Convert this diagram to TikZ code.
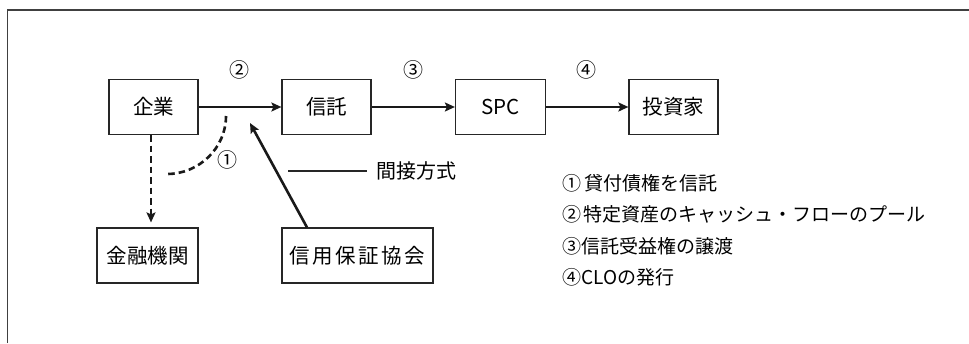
\documentclass[tikz,border=0pt]{standalone}
\usepackage{fontspec}
\setmainfont{Noto Sans CJK JP}
\usetikzlibrary{arrows.meta}
\begin{document}
\begin{tikzpicture}[x=1pt,y=-1pt,
  box/.style={draw=black!85,line width=1.2pt,minimum height=55pt,inner sep=0pt,font=\fontsize{20.5}{24}\selectfont},
  flow/.style={draw=black!90,line width=2.6pt,-{Stealth[length=10pt,width=9pt,inset=2pt]}},
  dashline/.style={draw=black!90,line width=2.6pt,dash pattern=on 6.5pt off 4pt},
  lbl/.style={font=\fontsize{20}{24}\selectfont,inner sep=0pt},
  leg/.style={font=\fontsize{19}{22}\selectfont,inner sep=0pt,anchor=west}]
\useasboundingbox (0,0) rectangle (969,343);
\draw[black!75,line width=1.6pt] (7.5,343) -- (7.5,10) -- (969,10);
% boxes
\node[box,minimum width=89pt] (kigyo) at (153.5,107) {企業};
\node[box,minimum width=89pt] (shintaku) at (326.5,107) {信託};
\node[box,minimum width=90pt] (spc) at (500.5,107) {SPC};
\node[box,minimum width=89pt] (toshika) at (673.5,107) {投資家};
\node[box,minimum width=101pt] (kinyu) at (147.5,255.5) {金融機関};
\node[box,minimum width=151pt] (hosho) at (357.5,255.5) {\addfontfeature{LetterSpace=12}信用保証協会};
% number labels
\node[lbl] (n2) at (239,70) {②};
\node[lbl] (n3) at (413,70) {③};
\node[lbl] (n4) at (586,70) {④};
\node[lbl] (n1) at (227,160) {①};
% main flow
\draw[flow] (kigyo) -- (shintaku);
\draw[flow] (shintaku) -- (spc);
\draw[flow] (spc) -- (toshika);
% dashed arrow to financial institution
\coordinate (dtop) at ([xshift=-2.5pt]kigyo.south);
\draw[dashline,-{Stealth[length=10pt,width=9pt,inset=2pt]},shorten >=5pt] (dtop) -- (dtop |- kinyu.north);
% dashed curve
\coordinate (cs) at (226,116);
\coordinate (ce) at (167,174);
\draw[dashline] (cs) .. controls (226,148) and (199,174) .. (ce);
% guarantee arrow
\coordinate (gtip) at (250,123);
\draw[flow] ([xshift=-50.5pt]hosho.north) -- (gtip);
% indirect method label
\node[lbl,anchor=west] (kansetsu) at (376,171) {間接方式};
\coordinate (lead) at (288,171);
\draw[black!85,line width=1.2pt] (lead) -- ([xshift=-9pt]kansetsu.west);
% legend
\node[leg] (l1) at (562,183) {①\hspace{3pt}貸付債権を信託};
\node[leg] (l2) at (562,214.5) {②\hspace{2pt}特定資産のキャッシュ・フローのプール};
\node[leg] (l3) at (562,246) {③信託受益権の譲渡};
\node[leg] (l4) at (562,277) {④CLOの発行};
\end{tikzpicture}
\end{document}
